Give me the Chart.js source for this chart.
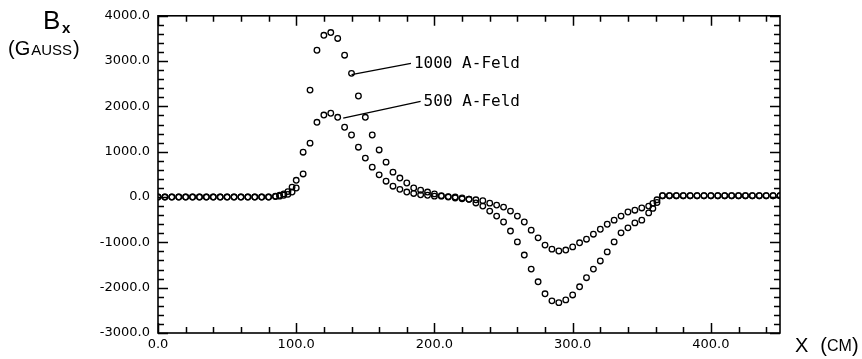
<!DOCTYPE html>
<html>
<head>
<meta charset="utf-8">
<script src="https://cdn.jsdelivr.net/npm/chart.js@4.4.0/dist/chart.umd.min.js"></script>
<style>
  body { margin: 0; background: #fff; }
  #wrap { width: 862px; height: 359px; }
</style>
</head>
<body>
<div id="wrap"><canvas id="myChart" width="862" height="359"></canvas></div>
<script>
// positions along the magnet (cm)
var xCm = [0, 5, 10, 15, 20, 25, 30, 35, 40, 45, 50, 55, 60, 65, 70, 75, 80,
  85, 88, 91, 94, 97,
  100, 105, 110, 115, 120, 125, 130, 135, 140, 145, 150, 155, 160, 165, 170, 175,
  180, 185, 190, 195, 200, 205, 210, 215, 220, 225, 230, 235, 240, 245, 250, 255,
  260, 265, 270, 275, 280, 285, 290, 295, 300, 305, 310, 315, 320, 325, 330, 335,
  340, 345, 350, 355, 358, 361,
  365, 370, 375, 380, 385, 390, 395, 400, 405, 410, 415, 420, 425, 430, 435, 440, 445, 450];

// Bx in Gauss, 1000 A
var b1000 = [0, 0, 0, 0, 0, 0, 0, 0, 0, 0, 0, 0, 0, 0, 0, 0, 0,
  20, 40, 70, 120, 220,
  370, 990, 2360, 3240, 3570, 3630, 3500, 3130, 2730, 2230, 1760, 1370, 1040, 770, 550, 420,
  310, 200, 150, 110, 70, 30, 10, 0, -20, -50, -130, -200, -310, -420, -550, -750,
  -990, -1280, -1590, -1870, -2135, -2290, -2330, -2270, -2160, -1980, -1780, -1590, -1410, -1210, -990, -790,
  -680, -570, -510, -350, -250, -120,
  30, 30, 30, 30, 30, 30, 30, 30, 30, 30, 30, 30, 30, 30, 30, 30, 30, 30];

// Bx in Gauss, 500 A
var b500 = [0, 0, 0, 0, 0, 0, 0, 0, 0, 0, 0, 0, 0, 0, 0, 0, 0,
  10, 20, 40, 60, 110,
  200, 510, 1190, 1650, 1810, 1850, 1760, 1540, 1370, 1100, 860, 660, 490, 350, 240, 170,
  110, 80, 50, 40, 20, 20, 0, -20, -40, -50, -60, -80, -134, -178, -222, -310,
  -420, -550, -730, -900, -1060, -1150, -1190, -1170, -1100, -1010, -930, -820, -710, -600, -510, -420,
  -330, -290, -240, -200, -140, -60,
  30, 30, 30, 30, 30, 30, 30, 30, 30, 30, 30, 30, 30, 30, 30, 30, 30, 30];

var xTicks = [0, 100, 200, 300, 400];
var yTicks = [-3000, -2000, -1000, 0, 1000, 2000, 3000, 4000];

// curve labels: [text, from x, from y, to x, to y]
var curveLabels = [
  ["1000 A-Feld", 140, 2700, 183, 2950],
  ["500 A-Feld", 134, 1740, 190, 2110]
];

function pairs(ys) {
  var out = [];
  for (var i = 0; i < xCm.length; i++) {
    out.push({ x: xCm[i], y: ys[i] });
  }
  return out;
}

var tickFont = { family: "DejaVu Sans", size: 13 };

// frame, inward ticks, labels
var decor = {
  id: 'decor',
  afterDraw: function (chart) {
    var ctx = chart.ctx;
    var a = chart.chartArea;
    var xs = chart.scales.x, ys = chart.scales.y;
    ctx.save();
    ctx.strokeStyle = '#000';
    ctx.lineWidth = 1.6;
    ctx.strokeRect(a.left, a.top, a.right - a.left, a.bottom - a.top);

    ctx.lineWidth = 1.5;
    ctx.beginPath();
    for (var v = -3000; v <= 4000; v += 200) {
      var py = Math.round(ys.getPixelForValue(v)) + 0.5;
      var len = (v % 1000 === 0) ? 10 : 6;
      ctx.moveTo(a.left, py); ctx.lineTo(a.left + len, py);
      ctx.moveTo(a.right, py); ctx.lineTo(a.right - len, py);
    }
    for (var u = 0; u <= 450; u += 20) {
      var px = Math.round(xs.getPixelForValue(u)) + 0.5;
      var l2 = (u % 100 === 0) ? 10 : 6;
      ctx.moveTo(px, a.bottom); ctx.lineTo(px, a.bottom - l2);
      ctx.moveTo(px, a.top); ctx.lineTo(px, a.top + l2);
    }
    ctx.stroke();

    // curve labels
    ctx.lineWidth = 1.3;
    ctx.fillStyle = '#000';
    ctx.font = '16px "DejaVu Sans Mono"';
    ctx.textBaseline = 'middle';
    ctx.textAlign = 'left';
    curveLabels.forEach(function (c) {
      var x1 = xs.getPixelForValue(c[1]), y1 = ys.getPixelForValue(c[2]);
      var x2 = xs.getPixelForValue(c[3]), y2 = ys.getPixelForValue(c[4]);
      ctx.beginPath();
      ctx.moveTo(x1, y1); ctx.lineTo(x2, y2);
      ctx.stroke();
      ctx.fillText(c[0], x2 + 3, y2);
    });

    // y title: B_x (GAUSS)
    ctx.textBaseline = 'alphabetic';
    ctx.font = '26px "Liberation Sans"';
    ctx.fillText('B', 43, 29);
    ctx.font = 'bold 15px "Liberation Sans"';
    ctx.fillText('x', 62, 33);
    var x0 = 8;
    ctx.font = '20px "Liberation Sans"';
    ctx.fillText('(', x0, 55); x0 += ctx.measureText('(').width;
    ctx.fillText('G', x0, 55); x0 += ctx.measureText('G').width + 1;
    ctx.font = '15px "Liberation Sans"';
    ctx.fillText('AUSS', x0, 55); x0 += ctx.measureText('AUSS').width + 1;
    ctx.font = '20px "Liberation Sans"';
    ctx.fillText(')', x0, 55);

    // x title: X (CM)
    var x3 = 795;
    ctx.font = '20px "Liberation Sans"';
    ctx.fillText('X', x3, 352); x3 += ctx.measureText('X').width + 12;
    ctx.fillText('(', x3, 352); x3 += ctx.measureText('(').width;
    ctx.font = '16px "Liberation Sans"';
    ctx.fillText('CM', x3, 351); x3 += ctx.measureText('CM').width;
    ctx.font = '20px "Liberation Sans"';
    ctx.fillText(')', x3, 352);
    ctx.restore();
  }
};

var ctx = document.getElementById('myChart').getContext('2d');
var myChart = new Chart(ctx, {
  type: 'scatter',
  data: {
    datasets: [{
      label: '1000 A-Feld',
      data: pairs(b1000),
      borderColor: '#000',
      backgroundColor: 'rgba(255,255,255,0)',
      pointRadius: 2.8,
      pointBorderWidth: 1.3,
      showLine: false
    }, {
      label: '500 A-Feld',
      data: pairs(b500),
      borderColor: '#000',
      backgroundColor: 'rgba(255,255,255,0)',
      pointRadius: 2.8,
      pointBorderWidth: 1.3,
      showLine: false
    }]
  },
  options: {
    responsive: false,
    animation: false,
    layout: { padding: { top: 15, right: 82, left: 0, bottom: 0 } },
    plugins: {
      legend: { display: false },
      tooltip: { enabled: false }
    },
    scales: {
      x: {
        type: 'linear',
        min: 0,
        max: 450,
        grid: { display: false, drawTicks: false },
        border: { display: false },
        afterFit: function (s) { s.height = 26; },
        afterBuildTicks: function (s) {
          s.ticks = xTicks.map(function (v) { return { value: v }; });
        },
        ticks: {
          color: '#000',
          font: tickFont,
          padding: 4,
          maxRotation: 0,
          callback: function (v) { return v.toFixed(1); }
        }
      },
      y: {
        min: -3000,
        max: 4000,
        grid: { display: false, drawTicks: false },
        border: { display: false },
        afterFit: function (s) { s.width = 158; },
        afterBuildTicks: function (s) {
          s.ticks = yTicks.map(function (v) { return { value: v }; });
        },
        ticks: {
          color: '#000',
          font: tickFont,
          padding: 8,
          callback: function (v) { return v.toFixed(1); }
        }
      }
    }
  },
  plugins: [decor]
});
</script>
</body>
</html>
